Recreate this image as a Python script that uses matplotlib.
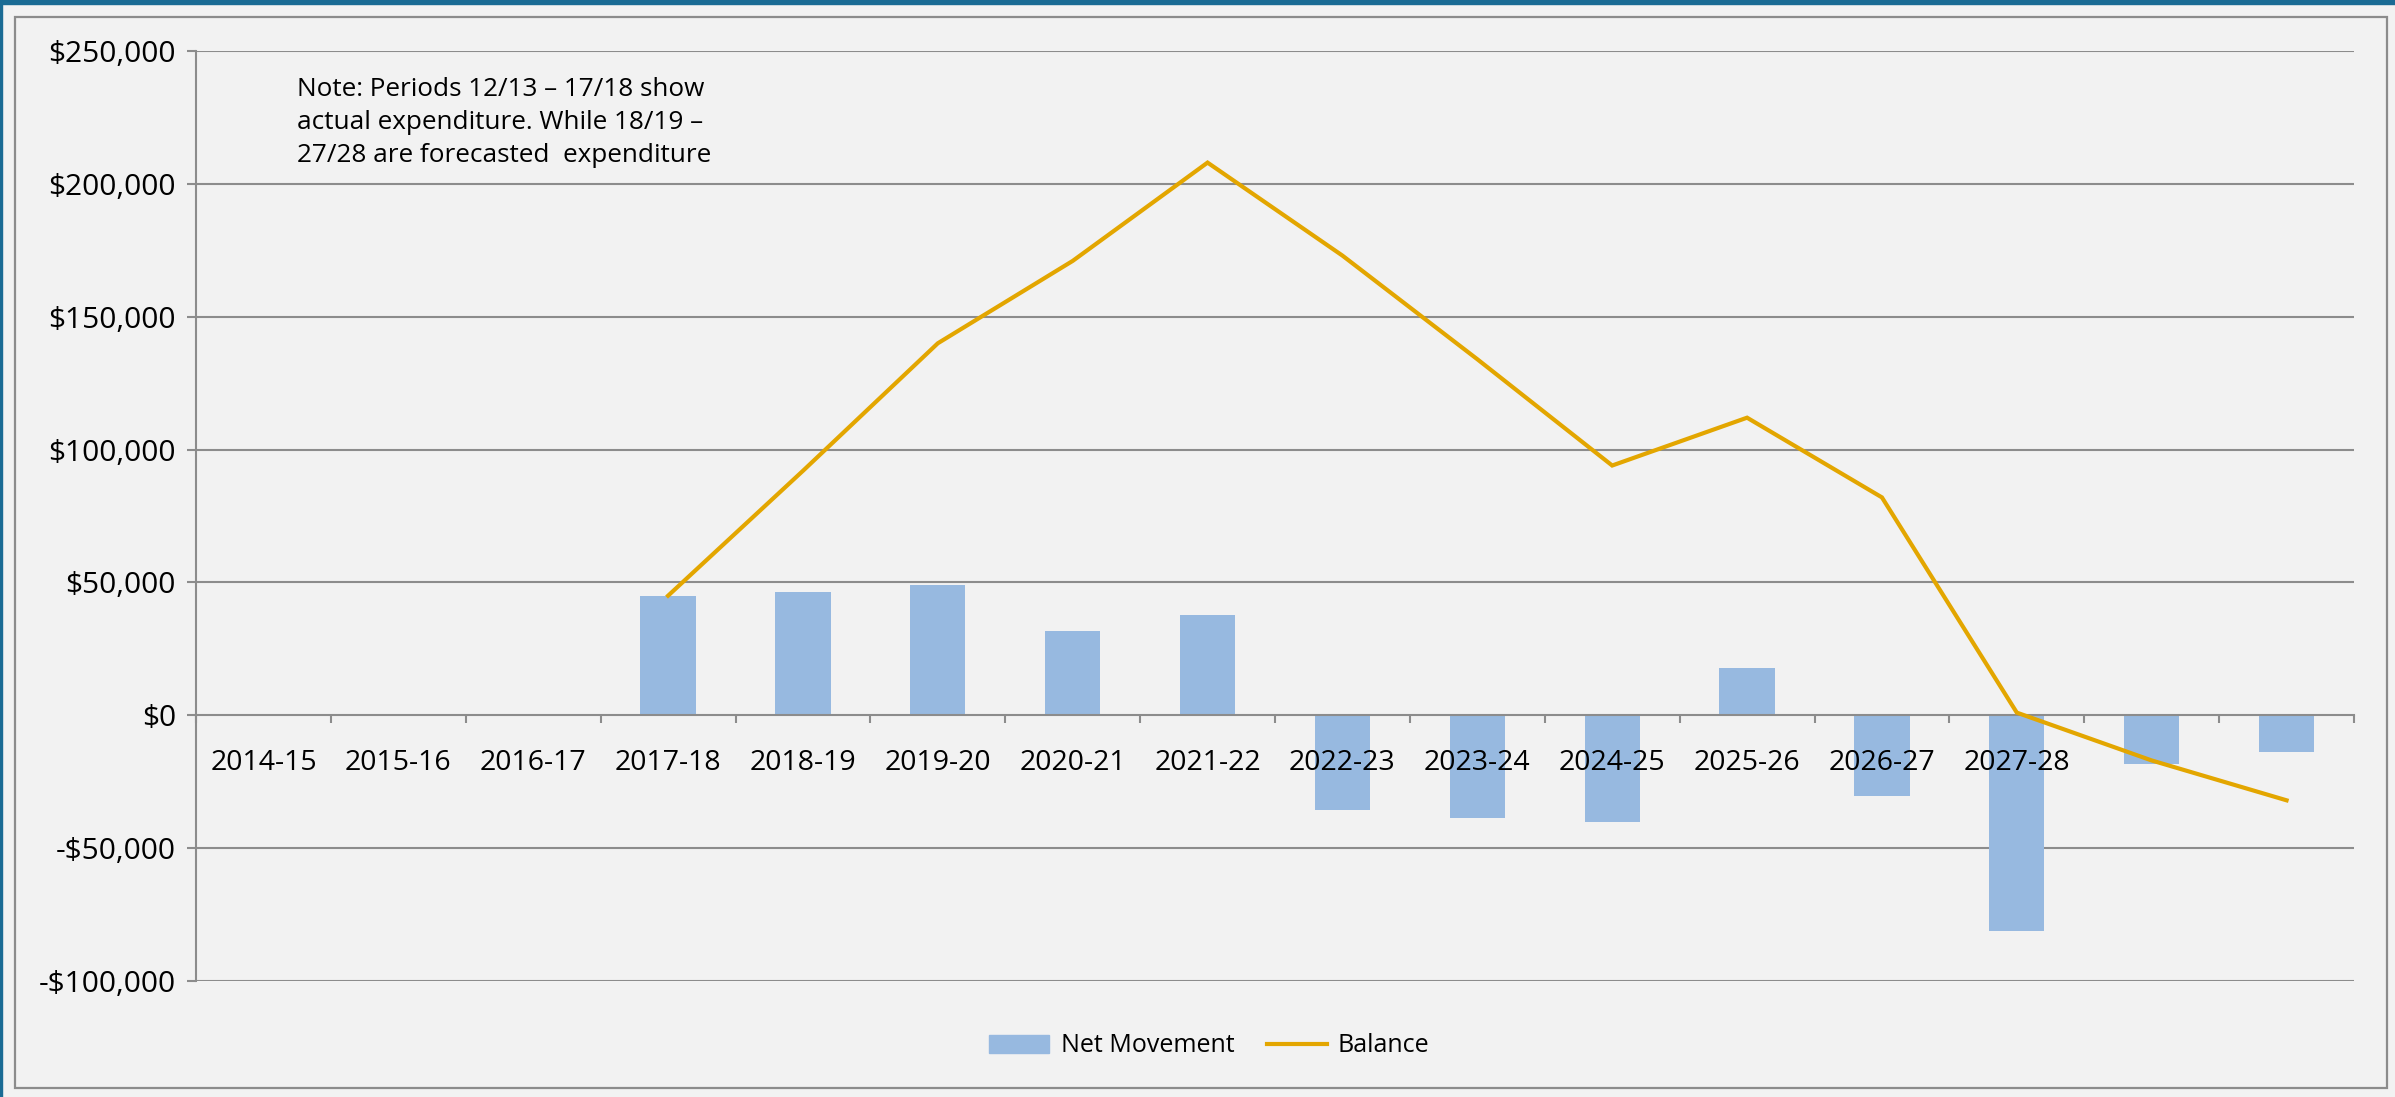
import numpy as np
import matplotlib
matplotlib.use('Agg')
import matplotlib.pyplot as plt
from matplotlib.patches import Rectangle, Patch
from matplotlib.lines import Line2D
from matplotlib.ticker import FuncFormatter

plt.rcParams['font.family'] = ['Open Sans', 'DejaVu Sans']

# data
categories = ['2014-15', '2015-16', '2016-17', '2017-18', '2018-19', '2019-20', '2020-21',
              '2021-22', '2022-23', '2023-24', '2024-25', '2025-26', '2026-27', '2027-28', '', '']
net_movement = [np.nan, np.nan, np.nan, 45000, 46500, 48900, 31600, 37900,
                -35600, -38500, -40200, 17800, -30500, -81000, -18400, -13800]
balance = [np.nan, np.nan, np.nan, 45000, 92000, 140000, 171000, 208000,
           173000, 134000, 94000, 112000, 82000, 1000, -17000, -32000]
yticks = [-100000, -50000, 0, 50000, 100000, 150000, 200000, 250000]

bar_color = '#97B9E0'
line_color = '#E3A600'
grid_color = '#8c8c8c'
bg = '#f2f2f2'

W, H = 2395, 1097
fig = plt.figure(figsize=(W / 100, H / 100), dpi=100, facecolor=bg)

# frame decorations (blue band + grey chart border)
fig.patches.append(Rectangle((0, 1 - 4 / H), 1, 4 / H, transform=fig.transFigure,
                             color='#1a6b94', zorder=0))
fig.patches.append(Rectangle((0, 0), 2.5 / W, 1, transform=fig.transFigure,
                             color='#1a6b94', zorder=0))
fig.patches.append(Rectangle((15 / W, 1 - 1088 / H), (2387 - 15) / W, (1088 - 17) / H,
                             transform=fig.transFigure, fill=False,
                             edgecolor=grid_color, lw=1.6, zorder=0))

ax = fig.add_axes([196 / W, 1 - 981 / H, (2354 - 196) / W, 930 / H])
ax.set_facecolor(bg)
ax.set_axisbelow(False)  # tick labels drawn over the bars

x = np.arange(len(categories))
# gridlines under the bars
for v in yticks:
    if v != 0:
        ax.axhline(v, color=grid_color, lw=1.5, zorder=1)
ax.bar(x, net_movement, width=0.41, color=bar_color, zorder=2)
ax.plot(x, balance, color=line_color, lw=3, zorder=3, solid_joinstyle='miter')

ax.set_xlim(-0.5, len(categories) - 0.5)
ax.set_ylim(-100000, 250000)
ax.set_yticks(yticks)
ax.yaxis.set_major_formatter(FuncFormatter(
    lambda v, p: ('-$' if v < 0 else '$') + '{:,.0f}'.format(abs(v))))

for s in ['top', 'right']:
    ax.spines[s].set_visible(False)
ax.spines['left'].set_color(grid_color)
ax.spines['left'].set_linewidth(1.5)
ax.spines['bottom'].set_position(('data', 0))
ax.spines['bottom'].set_color(grid_color)
ax.spines['bottom'].set_linewidth(1.5)

ax.set_xticks(x)
ax.set_xticklabels(categories)
ax.set_xticks(np.arange(-0.5, len(categories), 1), minor=True)
ax.tick_params(axis='x', which='major', length=0, pad=24, labelsize=20.5)
ax.tick_params(axis='x', which='minor', length=6, width=1.5, color=grid_color, direction='out')
ax.tick_params(axis='y', length=6.5, width=1.5, color=grid_color, pad=8, labelsize=21.5)

ax.text(0.047, 0.972, 'Note: Periods 12/13 \u2013 17/18 show\nactual expenditure. While 18/19 \u2013\n27/28 are forecasted  expenditure',
        transform=ax.transAxes, ha='left', va='top', fontsize=18.8, linespacing=1.42)

handles = [Patch(color=bar_color, label='Net Movement'),
           Line2D([0], [0], color=line_color, lw=3, label='Balance')]
fig.legend(handles=handles, loc='center', bbox_to_anchor=(0.505, 1 - 1046 / H), ncol=2,
           frameon=False, fontsize=18, handlelength=2.4, handleheight=0.7,
           handletextpad=0.45, columnspacing=1.3)

fig.savefig('out.png', dpi=100, facecolor=bg)
